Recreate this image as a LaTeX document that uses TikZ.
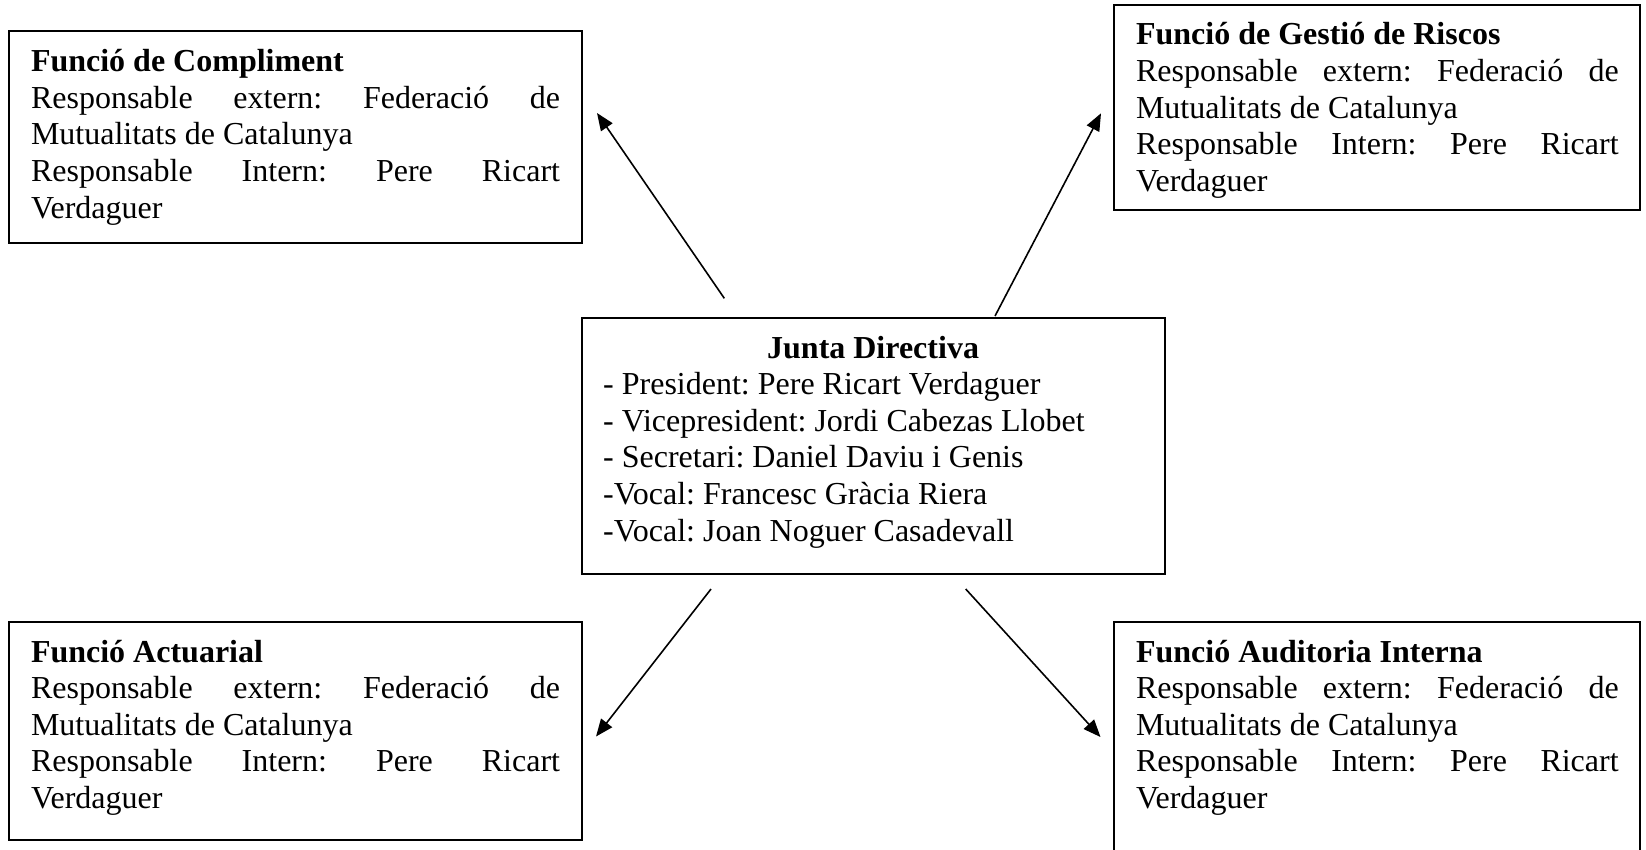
\documentclass[tikz,border=0pt]{standalone}
\usepackage{fontspec}
\setmainfont{Liberation Serif}
\usetikzlibrary{arrows.meta}
\tikzset{
  fbox/.style={draw, line width=0.75pt, anchor=north west, inner xsep=8.1pt, inner ysep=5.5pt,
    font=\fontsize{12}{13.73}\selectfont\frenchspacing},
  conn/.style={line width=0.6pt, -{Triangle[length=6.5pt,width=5.2pt]}}
}
\newcommand\fullline[1]{\makebox[\linewidth][s]{#1}}
\begin{document}
\begin{tikzpicture}[x=0.375pt,y=-0.375pt]
\clip (0,0) rectangle (1646,849);
\fill[white] (0,0) rectangle (1646,849);

\node[fbox] (comp) at (8.4,30.4) {\begin{minipage}[t][68.5pt][t]{198.4pt}
\strut\textbf{Funció de Compliment}\\
\fullline{Responsable extern: Federació de}\\
Mutualitats de Catalunya\\
\fullline{Responsable Intern: Pere Ricart}\\
Verdaguer
\end{minipage}};

\node[fbox] (risc) at (1113.4,3.5) {\begin{minipage}[t][66.2pt][t]{181pt}
\strut\textbf{Funció de Gestió de Riscos}\\
\fullline{Responsable extern: Federació de}\\
Mutualitats de Catalunya\\
\fullline{Responsable Intern: Pere Ricart}\\
Verdaguer
\end{minipage}};

\node[fbox] (junta) at (580.6,316.7) {\begin{minipage}[t][85.1pt][t]{202.4pt}
{\centering\strut\textbf{Junta Directiva}\par}
\raggedright
- President: Pere Ricart Verdaguer\\
- Vicepresident: Jordi Cabezas Llobet\\
- Secretari: Daniel Daviu i Genis\\
-Vocal: Francesc Gràcia Riera\\
-Vocal: Joan Noguer Casadevall
\end{minipage}};

\node[fbox] (actu) at (8.4,620.7) {\begin{minipage}[t][70.75pt][t]{198.4pt}
\strut\textbf{Funció Actuarial}\\
\fullline{Responsable extern: Federació de}\\
Mutualitats de Catalunya\\
\fullline{Responsable Intern: Pere Ricart}\\
Verdaguer
\end{minipage}};

\node[fbox] (audi) at (1113.4,620.7) {\begin{minipage}[t][80pt][t]{181pt}
\strut\textbf{Funció Auditoria Interna}\\
\fullline{Responsable extern: Federació de}\\
Mutualitats de Catalunya\\
\fullline{Responsable Intern: Pere Ricart}\\
Verdaguer
\end{minipage}};

\coordinate (s1) at (724.3,298.3);
\coordinate (t1) at (597,113);
\coordinate (s2) at (995,316);
\coordinate (t2) at (1101,113.3);
\coordinate (s3) at (711,589);
\coordinate (t3) at (596,736.5);
\coordinate (s4) at (965.7,589);
\coordinate (t4) at (1100.5,737);

\draw[conn] (s1) -- (t1);
\draw[conn] (s2) -- (t2);
\draw[conn] (s3) -- (t3);
\draw[conn] (s4) -- (t4);
\end{tikzpicture}
\end{document}
